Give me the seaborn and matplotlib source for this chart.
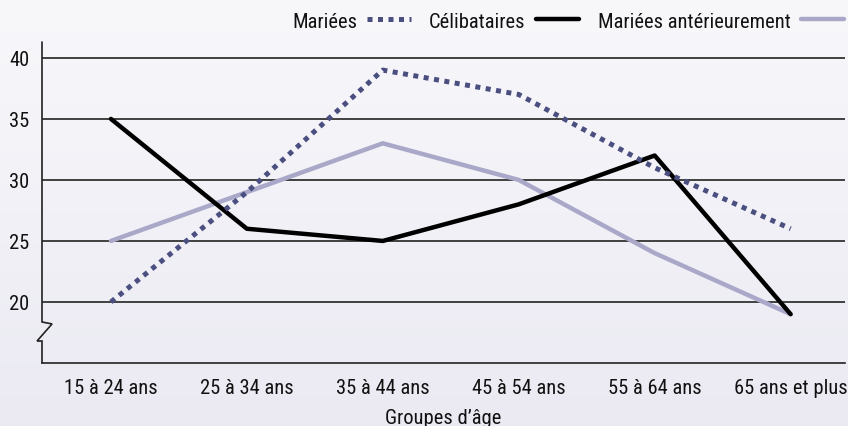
import numpy as np
import pandas as pd
import matplotlib
matplotlib.use("Agg")
import matplotlib.pyplot as plt
import seaborn as sns
from matplotlib.lines import Line2D
from matplotlib.colors import LinearSegmentedColormap
from matplotlib.transforms import blended_transform_factory

categories = ["15 à 24 ans", "25 à 34 ans", "35 à 44 ans", "45 à 54 ans", "55 à 64 ans", "65 ans et plus"]
mariees = [20, 29, 39, 37, 31, 26]
celibataires = [35, 26, 25, 28, 32, 19]
anterieurement = [25, 29, 33, 30, 24, 19]
series_names = ["Mariées", "Célibataires", "Mariées antérieurement"]
yticks = [20, 25, 30, 35, 40]

sns.set_theme(style="white")
plt.rcParams['font.family'] = ['Roboto Condensed', 'DejaVu Sans']
plt.rcParams['text.color'] = '#111111'
plt.rcParams['xtick.color'] = '#111111'
plt.rcParams['ytick.color'] = '#111111'
plt.rcParams['axes.labelcolor'] = '#111111'
FS = 14.8

df = pd.DataFrame({
    "x": list(range(len(categories))) * 3,
    "val": mariees + celibataires + anterieurement,
    "serie": [series_names[0]] * 6 + [series_names[1]] * 6 + [series_names[2]] * 6,
})

colors = {"Mariées": "#4b4f80", "Célibataires": "#000000", "Mariées antérieurement": "#a9a8c8"}

fig = plt.figure(figsize=(8.48, 4.27), dpi=100)
bg = fig.add_axes([0, 0, 1, 1], zorder=-10)
grad = np.linspace(0, 1, 256).reshape(-1, 1)
cmap = LinearSegmentedColormap.from_list("bg", ["#f8f8fb", "#ebeaf3"])
bg.imshow(grad, aspect="auto", cmap=cmap, extent=[0, 1, 0, 1])
bg.axis("off")

ax = fig.add_axes([42/848, 63/427, (845-42)/848, (364-43)/427])
ax.patch.set_alpha(0)

for y in yticks:
    ax.axhline(y, color="#333333", lw=1.3, zorder=1)

sns.lineplot(data=df[df.serie == "Mariées antérieurement"], x="x", y="val", ax=ax,
             color=colors["Mariées antérieurement"], lw=3.2, legend=False, zorder=2)
sns.lineplot(data=df[df.serie == "Célibataires"], x="x", y="val", ax=ax,
             color=colors["Célibataires"], lw=3.2, legend=False, zorder=3)
sns.lineplot(data=df[df.serie == "Mariées"], x="x", y="val", ax=ax,
             color=colors["Mariées"], lw=3.6, legend=False, zorder=4,
             linestyle=(0, (1, 1.1)), dash_capstyle="butt")

ax.set_xlim(-0.507, 5.4)
ax.set_ylim(15, 41.3)
ax.set_yticks(yticks)
ax.set_yticklabels([str(v) for v in yticks], fontsize=FS)
ax.set_xticks(range(len(categories)))
ax.set_xticklabels(categories, fontsize=FS)
ax.tick_params(axis="x", direction="in", length=6, width=1, color="#222222", pad=10.5)
ax.tick_params(axis="y", length=0, pad=9)
ax.set_xlabel("Groupes d’âge", fontsize=FS, labelpad=8)
ax.set_ylabel("")

for s in ["top", "right", "left"]:
    ax.spines[s].set_visible(False)
ax.spines["bottom"].set_color("#222222")
ax.spines["bottom"].set_linewidth(1.2)

tr = blended_transform_factory(ax.transAxes, ax.transData)
kw = dict(transform=tr, color="#222222", lw=1.2, clip_on=False, solid_joinstyle="miter")
ax.plot([0, 0, 0.0125, -0.0062, 0, 0], [41.3, 18.36, 18.2, 16.8, 16.8, 15], **kw)

handles = [
    Line2D([], [], color=colors["Mariées"], lw=3.6, linestyle=(0, (1, 1.1)), dash_capstyle="butt"),
    Line2D([], [], color=colors["Célibataires"], lw=3.2),
    Line2D([], [], color=colors["Mariées antérieurement"], lw=3.2),
]
fig.legend(handles, series_names, loc="center right", bbox_to_anchor=(1.0, 1 - 22/427), ncol=3,
           frameon=False, markerfirst=False, fontsize=FS, handlelength=2.1,
           columnspacing=0.9, handletextpad=0.5, borderaxespad=0.1, borderpad=0.1)

fig.savefig("out.png", dpi=100)
